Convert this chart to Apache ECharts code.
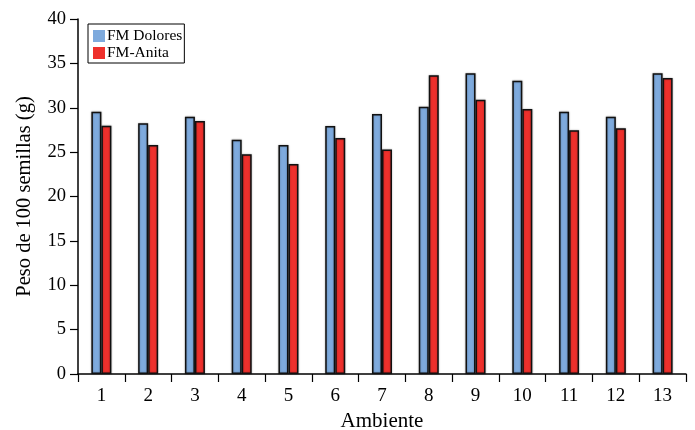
<!DOCTYPE html>
<html>
<head>
<meta charset="utf-8">
<script src="https://cdn.jsdelivr.net/npm/echarts@6/dist/echarts.min.js"></script>
<style>html,body{margin:0;padding:0;background:#fff;}#c{width:695px;height:430px;}</style>
</head>
<body>
<div id="c"></div>
<script>
const categories = ['1','2','3','4','5','6','7','8','9','10','11','12','13'];
const dolores = [29.55, 28.25, 29.0, 26.4, 25.8, 27.95, 29.3, 30.1, 33.9, 33.05, 29.55, 29.0, 33.9];
const anita   = [27.98, 25.8, 28.5, 24.75, 23.66, 26.6, 25.3, 33.65, 30.9, 29.86, 27.46, 27.7, 33.35];
const yTicks = { min: 0, max: 40, interval: 5 };

const FONT = '"Liberation Serif", "Times New Roman", serif';
const chart = echarts.init(document.getElementById('c'));
chart.setOption({
  animation: false,
  backgroundColor: '#fff',
  textStyle: { fontFamily: FONT },
  grid: { left: 78, right: 9, top: 19, bottom: 56, containLabel: false, outerBoundsMode: 'none' },
  legend: {
    orient: 'vertical',
    left: 88, top: 24,
    padding: [4, 2, 2, 5],
    borderColor: '#000', borderWidth: 1,
    itemWidth: 12, itemHeight: 12, itemGap: 1,
    textStyle: { fontFamily: FONT, fontSize: 15.5, color: '#000', padding: [0,0,0,-3] },
    itemStyle: { borderWidth: 0 },
    data: [
      { name: 'FM Dolores', icon: 'rect' },
      { name: 'FM-Anita', icon: 'rect' }
    ]
  },
  xAxis: {
    type: 'category',
    data: categories,
    name: 'Ambiente',
    nameLocation: 'middle',
    nameGap: 34,
    nameTextStyle: { fontFamily: FONT, fontSize: 21, color: '#000', verticalAlign: 'top' },
    axisLine: { lineStyle: { color: '#000', width: 1.5 } },
    axisTick: { show: true, interval: 0, alignWithLabel: false, length: 8, lineStyle: { color: '#000', width: 1.2 } },
    axisLabel: { fontFamily: FONT, fontSize: 19, color: '#000', margin: 13 }
  },
  yAxis: {
    type: 'value',
    min: yTicks.min, max: yTicks.max, interval: yTicks.interval,
    name: 'Peso de 100 semillas (g)',
    nameLocation: 'middle',
    nameGap: 43,
    nameTextStyle: { fontFamily: FONT, fontSize: 20.5, color: '#000' },
    axisLine: { show: true, lineStyle: { color: '#000', width: 1.5 } },
    axisTick: { show: true, length: 8, lineStyle: { color: '#000', width: 1.2 } },
    axisLabel: { fontFamily: FONT, fontSize: 18.5, color: '#000', margin: 12 },
    splitLine: { show: false }
  },
  series: [
    {
      name: 'FM Dolores', type: 'bar', data: dolores,
      barWidth: 10, barGap: '0%',
      itemStyle: { color: '#7EAADD', borderColor: '#111', borderWidth: 1.5, shadowColor: 'rgba(0,0,0,0.3)', shadowBlur: 2 }
    },
    {
      name: 'FM-Anita', type: 'bar', data: anita,
      barWidth: 10, barGap: '0%',
      itemStyle: { color: '#EE302C', borderColor: '#111', borderWidth: 1.5, shadowColor: 'rgba(0,0,0,0.3)', shadowBlur: 2 }
    }
  ]
});
</script>
</body>
</html>
